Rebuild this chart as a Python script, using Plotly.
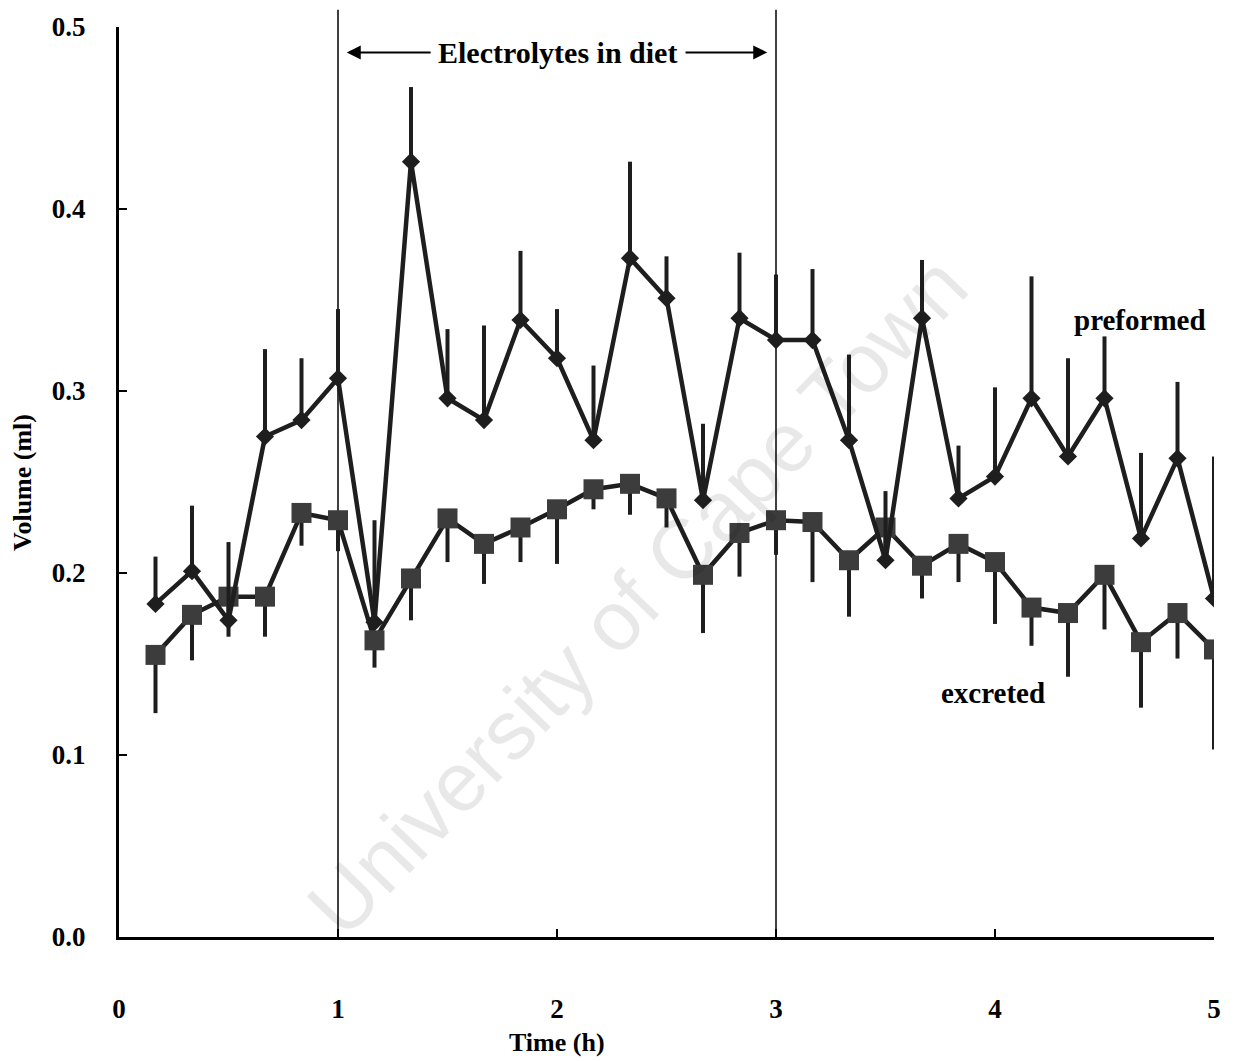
import plotly.graph_objects as go

# time points (h)
time_h = [k / 6 for k in range(1, 31)]

preformed = [0.183, 0.201, 0.174, 0.275, 0.284, 0.307, 0.173, 0.426, 0.296, 0.284,
             0.339, 0.318, 0.273, 0.373, 0.351, 0.240, 0.340, 0.328, 0.328, 0.273,
             0.207, 0.340, 0.241, 0.253, 0.296, 0.264, 0.296, 0.219, 0.263, 0.186]
preformed_err = [0.026, 0.036, 0.043, 0.048, 0.034, 0.038, 0.056, 0.041, 0.038, 0.052,
                 0.038, 0.027, 0.041, 0.053, 0.023, 0.042, 0.036, 0.036, 0.039, 0.047,
                 0.038, 0.032, 0.029, 0.049, 0.067, 0.054, 0.034, 0.047, 0.042, 0.078]

excreted = [0.155, 0.177, 0.187, 0.187, 0.233, 0.229, 0.163, 0.197, 0.230, 0.216,
            0.225, 0.235, 0.246, 0.249, 0.241, 0.199, 0.222, 0.229, 0.228, 0.207,
            0.225, 0.204, 0.216, 0.206, 0.181, 0.178, 0.199, 0.162, 0.178, 0.158]
excreted_err = [0.032, 0.025, 0.022, 0.022, 0.018, 0.017, 0.015, 0.023, 0.024, 0.022,
                0.019, 0.030, 0.011, 0.017, 0.016, 0.032, 0.024, 0.019, 0.033, 0.031,
                0.015, 0.018, 0.021, 0.034, 0.021, 0.035, 0.030, 0.036, 0.025, 0.055]

x_ticks = [0, 1, 2, 3, 4, 5]
y_ticks = [0.0, 0.1, 0.2, 0.3, 0.4, 0.5]
diet_start, diet_end = 1, 3

FONT = "Liberation Serif"
INK = "#1e1e1e"

fig = go.Figure()

zeros = [0] * len(time_h)

fig.add_trace(go.Scatter(
    x=time_h, y=excreted, mode="lines+markers", name="excreted",
    line=dict(color=INK, width=4.5),
    marker=dict(symbol="square", size=20, color="#3c3c3c"),
    error_y=dict(type="data", symmetric=False, array=zeros, arrayminus=excreted_err,
                 thickness=4, width=0, color=INK),
    showlegend=False,
))
fig.add_trace(go.Scatter(
    x=time_h, y=preformed, mode="lines+markers", name="preformed",
    line=dict(color=INK, width=4.5),
    marker=dict(symbol="diamond", size=14, color=INK),
    error_y=dict(type="data", symmetric=False, array=preformed_err, arrayminus=zeros,
                 thickness=4, width=0, color=INK),
    showlegend=False,
))

for xv in (diet_start, diet_end):
    fig.add_shape(type="line", xref="x", yref="paper", x0=xv, x1=xv, y0=0, y1=1.019,
                  line=dict(color="black", width=1.5), layer="below")

annotations = [
    dict(text="<b>Electrolytes in diet</b>", x=(diet_start + diet_end) / 2, y=0.486,
         xref="x", yref="y", showarrow=False, font=dict(family=FONT, size=30, color="black")),
    dict(text="", x=1.04, y=0.486, xref="x", yref="y", ax=1.43, ay=0.486, axref="x", ayref="y",
         showarrow=True, arrowhead=2, arrowsize=1.4, arrowwidth=2, arrowcolor="black"),
    dict(text="", x=2.96, y=0.486, xref="x", yref="y", ax=2.58, ay=0.486, axref="x", ayref="y",
         showarrow=True, arrowhead=2, arrowsize=1.4, arrowwidth=2, arrowcolor="black"),
    dict(text="<b>preformed</b>", x=4.66, y=0.339, xref="x", yref="y", showarrow=False,
         font=dict(family=FONT, size=29, color="black")),
    dict(text="<b>excreted</b>", x=3.99, y=0.134, xref="x", yref="y", showarrow=False,
         font=dict(family=FONT, size=29, color="black")),
    dict(text="<b>Volume (ml)</b>", x=-0.0886, y=0.50, xref="paper", yref="paper",
         xanchor="center", yanchor="middle",
         showarrow=False, textangle=-90, font=dict(family=FONT, size=26, color="black")),
    dict(text="<b>Time (h)</b>", x=0.40, y=-0.116, xref="paper", yref="paper",
         xanchor="center", yanchor="middle",
         showarrow=False, font=dict(family=FONT, size=26, color="black")),
    dict(text="University of Cape Town", x=0.473, y=0.375, xref="paper", yref="paper",
         xanchor="center", yanchor="middle",
         showarrow=False, textangle=-46,
         font=dict(family="Liberation Sans", size=84, color="rgba(0,0,0,0.09)")),
]

fig.update_layout(
    width=1235, height=1061,
    margin=dict(l=119, r=21, t=25, b=124),
    paper_bgcolor="white", plot_bgcolor="white",
    annotations=annotations,
    font=dict(family=FONT, color="black"),
)

fig.update_xaxes(
    range=[0, 5], tickvals=x_ticks, ticktext=[f"<b>{v}</b>" for v in x_ticks],
    showgrid=False, zeroline=False, showline=True, linecolor="black", linewidth=3,
    ticks="inside", ticklen=8, tickwidth=2, tickcolor="black",
    tickfont=dict(family=FONT, size=27, color="black"), ticklabelstandoff=46,
)
fig.update_yaxes(
    range=[0, 0.5], tickvals=y_ticks, ticktext=[f"<b>{v:.1f}</b>" for v in y_ticks],
    showgrid=False, zeroline=False, showline=True, linecolor="black", linewidth=3,
    ticks="inside", ticklen=8, tickwidth=2, tickcolor="black",
    tickfont=dict(family=FONT, size=27, color="black"), ticklabelstandoff=25,
)

fig.write_html("out.html")
